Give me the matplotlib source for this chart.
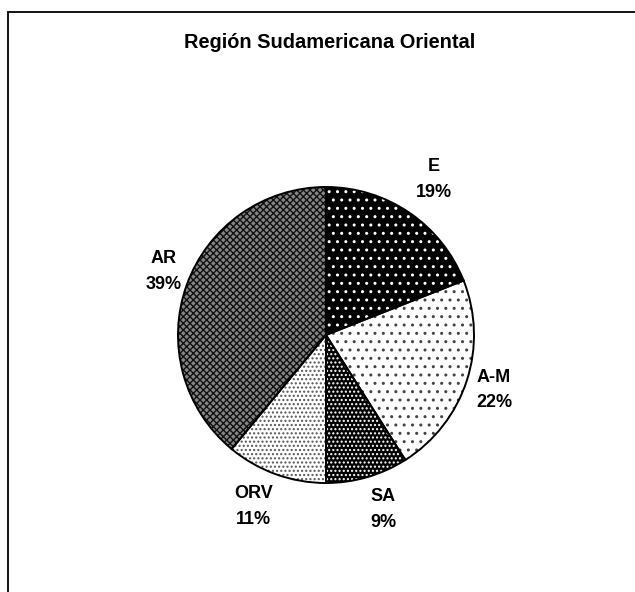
import numpy as np
import matplotlib
matplotlib.use("Agg")
import matplotlib.pyplot as plt
from matplotlib.patches import Rectangle

plt.rcParams['font.family'] = ['Liberation Sans', 'DejaVu Sans']
plt.rcParams['hatch.linewidth'] = 1.0

title = "Región Sudamericana Oriental"
labels = ["E", "A-M", "SA", "ORV", "AR"]
shares = [19, 22, 9, 11, 39]

# fill, hatch colour and hatch pattern for each slice
face_cols = ["black", "white", "black", "white", "#858585"]
hatch_cols = ["white", "#444444", "white", "#555555", "#111111"]
hatches = ["..", "..", "....", "....", "xxxxx"]

# label centres in pie units (radius = 1)
label_xy = [(0.73, 1.05), (1.135, -0.37), (0.385, -1.18), (-0.49, -1.16), (-1.10, 0.43)]

W, H = 635, 592
fig = plt.figure(figsize=(W / 100, H / 100), dpi=100)

# outer frame, cut off at the right and bottom
fig.patches.append(Rectangle((8 / W, -0.2), 1.5, 1.2 - 12 / H, transform=fig.transFigure,
                             fill=False, edgecolor="black", linewidth=1.3))

fig.text(330 / W, 1 - 48 / H, title, ha="center", va="baseline",
         fontsize=14.4, fontweight="bold")

r_px = 148
cx, cy = 326, 335
ax = fig.add_axes([(cx - r_px) / W, (H - cy - r_px) / H, 2 * r_px / W, 2 * r_px / H])

# hatched fills first (edge colour drives the hatch colour), outlines on top
wedges, _ = ax.pie(shares, startangle=90, counterclock=False, colors=face_cols,
                   wedgeprops=dict(linewidth=0))
for w, hc, h in zip(wedges, hatch_cols, hatches):
    w.set_edgecolor(hc)
    w.set_hatch(h)
ax.pie(shares, startangle=90, counterclock=False,
       wedgeprops=dict(facecolor="none", edgecolor="black", linewidth=1.4))

for lab, val, (x, y) in zip(labels, shares, label_xy):
    ax.text(x, y, f"{lab}\n{val}%", ha="center", va="center", fontsize=13,
            fontweight="bold", linespacing=1.65)

ax.set_xlim(-1, 1)
ax.set_ylim(-1, 1)
ax.set_axis_off()

fig.savefig("out.png", dpi=100)
